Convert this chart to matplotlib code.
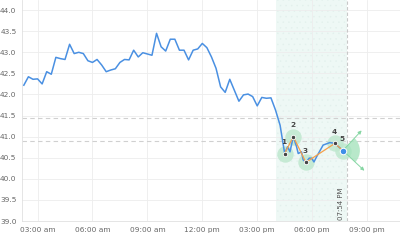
import matplotlib
matplotlib.use('Agg')
from matplotlib import pyplot as plt
from matplotlib.patches import Wedge
from matplotlib.transforms import ScaledTranslation

plt.rcParams['hatch.linewidth'] = 0.3
plt.rcParams['hatch.color'] = '#e2f0ec'

# blue series: 15 minute readings from 02:15 am to 04:15 pm (hours of day)
base_hours = [2.25 + 0.25 * k for k in range(57)]
base_values = [42.22, 42.42, 42.36, 42.37, 42.25, 42.54, 42.48, 42.88, 42.85, 42.83,
               43.19, 42.97, 43.00, 42.97, 42.80, 42.76, 42.83, 42.70, 42.54, 42.58,
               42.61, 42.76, 42.83, 42.82, 43.05, 42.89, 42.99, 42.96, 42.93, 43.45,
               43.13, 43.03, 43.31, 43.31, 43.05, 43.05, 42.82, 43.05, 43.08, 43.21,
               43.11, 42.89, 42.62, 42.18, 42.05, 42.36, 42.10, 41.84, 41.99, 42.01,
               41.95, 41.73, 41.93, 41.91, 41.92, 41.63, 41.27]
# finer readings inside the highlighted window
tail_hours = [16.5, 16.66, 16.79, 16.97, 17.15, 17.24, 17.42, 17.51, 17.66, 17.84,
              17.97, 18.10, 18.24, 18.60, 18.97, 19.24, 19.68]
tail_values = [40.60, 40.76, 40.64, 41.00, 40.76, 40.60, 40.64, 40.45, 40.39, 40.49,
               40.49, 40.40, 40.52, 40.80, 40.86, 40.84, 40.67]

# numbered pattern points
pt_labels = ['1', '2', '3', '4', '5']
pt_hours = [16.5, 16.97, 17.66, 19.24, 19.68]
pt_values = [40.60, 41.00, 40.39, 40.84, 40.67]

levels = [41.45, 40.9]
window = (16.0, 19.9)
marker_time = 19.9
marker_text = '07:54 PM'

xticks = [3, 6, 9, 12, 15, 18, 21]
xticklabels = ['03:00 am', '06:00 am', '09:00 am', '12:00 pm', '03:00 pm', '06:00 pm', '09:00 pm']
yticks = [39.0, 39.5, 40.0, 40.5, 41.0, 41.5, 42.0, 42.5, 43.0, 43.5, 44.0]

hours = base_hours + tail_hours
values = base_values + tail_values

fig = plt.figure(figsize=(4, 2.43), dpi=100)
ax = fig.add_axes([0.055, 0.0905, 0.945, 0.9095])
ax.set_xlim(2.15, 22.8)
ax.set_ylim(39.0, 44.24)

ax.set_xticks(xticks)
ax.set_xticklabels(xticklabels)
ax.set_yticks(yticks)
ax.set_yticklabels(['%.1f' % v for v in yticks])
ax.tick_params(axis='both', length=0, labelsize=5.3, colors='#666666', pad=4)
ax.grid(True, color='#ededed', linewidth=0.6)
ax.set_axisbelow(True)
for s in ['top', 'right']:
    ax.spines[s].set_visible(False)
for s in ['left', 'bottom']:
    ax.spines[s].set_color('#e0e0e0')
    ax.spines[s].set_linewidth(0.6)

# highlighted window
ax.axvspan(window[0], window[1], facecolor='#eef8f5', edgecolor='#e2f0ec',
           hatch='...', linewidth=0, zorder=0.5)
ax.axvline(marker_time, color='#c8c8c8', linestyle=(0, (3, 2)), linewidth=0.8)
ax.annotate(marker_text, (marker_time, 39.02), xytext=(-2, 0), textcoords='offset points',
            rotation=90, ha='right', va='bottom', fontsize=5, color='#555555')

for lv in levels:
    ax.axhline(lv, color='#d0d0d0', linestyle=(0, (4, 3)), linewidth=0.8)

ax.plot(hours, values, color='#4a90e2', linewidth=1.1, zorder=3)

# pattern overlay
ax.scatter(pt_hours[:4], pt_values[:4], s=140, color='#bfe8cf', alpha=0.85, zorder=2.5, linewidths=0)
ax.plot(pt_hours, pt_values, color='#f5a04a', linewidth=0.9, zorder=4)

x5, y5 = pt_hours[4], pt_values[4]
tr = fig.dpi_scale_trans + ScaledTranslation(x5, y5, ax.transData)
ax.add_patch(Wedge((0, 0), 0.17, -43, 47, transform=tr, facecolor='#a6e3bd',
                   alpha=0.8, edgecolor='none', zorder=2.6))
ax.scatter([x5], [y5], s=140, color='#bfe8cf', alpha=0.85, zorder=2.5, linewidths=0)
for dx, dy in [(13.5, 14.5), (15.5, -14.5)]:
    ax.annotate('', xy=(x5, y5), xytext=(dx, dy), textcoords='offset points',
                arrowprops=dict(arrowstyle='<|-', color='#86d6a3', lw=0.7,
                                mutation_scale=5, shrinkA=0, shrinkB=0), zorder=2.7)

ax.scatter(pt_hours[:4], pt_values[:4], s=10, color='#444444', edgecolors='white',
           linewidths=0.6, zorder=5)
ax.scatter([x5], [y5], s=22, color='#3f8fe8', edgecolors='white', linewidths=0.7, zorder=5)
for lab, hx, vy in zip(pt_labels, pt_hours, pt_values):
    ax.annotate(lab, (hx, vy), xytext=(-0.5, 6), textcoords='offset points', ha='center',
                va='bottom', fontsize=5.3, fontweight='bold', color='#444444', zorder=6)

fig.savefig('out.png', dpi=100)
